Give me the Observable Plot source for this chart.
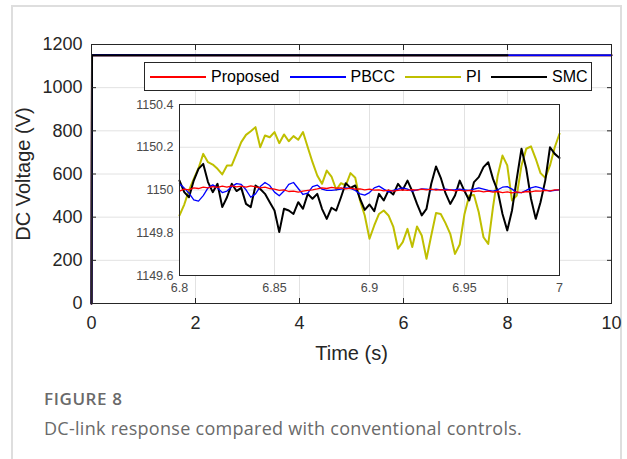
<!DOCTYPE html>
<html><head><meta charset="utf-8">
<script src="https://cdn.jsdelivr.net/npm/d3@7"></script>
<script src="https://cdn.jsdelivr.net/npm/@observablehq/plot@0.6"></script>
<style>
html,body{margin:0;padding:0;background:#fff;}
body{width:627px;height:459px;overflow:hidden;position:relative;font-family:"Liberation Sans",Arial,sans-serif;}
#card{position:absolute;left:11px;top:5px;width:607px;height:470px;border:2px solid #dedede;}
#main,#inset{position:absolute;left:0;top:0;}
#legend{position:absolute;left:144px;top:62px;width:448px;height:29px;box-sizing:border-box;border:1px solid #262626;background:#fff;display:flex;align-items:center;padding-left:5px;font-size:16px;color:#000;}
#legend .sw{display:inline-block;width:56px;height:2px;margin-right:5px;}
#legend .it{display:flex;align-items:center;margin-right:10px;white-space:nowrap;}
#figlabel{position:absolute;left:44px;top:389px;font-family:"Open Sans",sans-serif;font-weight:600;font-size:17px;letter-spacing:0.6px;line-height:20px;color:#6a6a6a;}
#caption{position:absolute;left:44px;top:417px;font-family:"Open Sans",sans-serif;font-size:18px;letter-spacing:0.28px;line-height:22px;color:#6a6a6a;}
</style>
</head><body>
<div id="card"></div>
<div id="main"></div>
<div id="inset"></div>
<div id="legend"></div>
<div id="figlabel">FIGURE 8</div>
<div id="caption">DC-link response compared with conventional controls.</div>
<script>
// ---------- data ----------
const seriesNames = ["Proposed", "PBCC", "PI", "SMC"];
const seriesColors = ["#ff0000", "#0000ff", "#bfbf00", "#000000"];

// main plot (0-10 s)
const mainT        = [0, 0.01, 0.1, 8, 10];
const mainProposed = [0, 1150, 1150, 1150, 1150];
const mainPBCC     = [0, 1150, 1151, 1150, 1150];
const mainPI       = [0, 1150, 1150, 1150, 1150];
const mainSMC      = [0, 1150, 1150, 1150, null];
const mainXTicks = [0, 2, 4, 6, 8, 10];
const mainXLabels = ["0", "2", "4", "6", "8", "10"];
const mainYTicks = [0, 200, 400, 600, 800, 1000, 1200];
const mainYLabels = ["0", "200", "400", "600", "800", "1000", "1200"];

// inset (6.8-7 s)
const insetT = [
6.8000,6.8025,6.8050,6.8075,6.8100,6.8125,6.8150,6.8175,6.8200,6.8225,
6.8250,6.8275,6.8300,6.8325,6.8350,6.8375,6.8400,6.8425,6.8450,6.8475,
6.8500,6.8525,6.8550,6.8575,6.8600,6.8625,6.8650,6.8675,6.8700,6.8725,
6.8750,6.8775,6.8800,6.8825,6.8850,6.8875,6.8900,6.8925,6.8950,6.8975,
6.9000,6.9025,6.9050,6.9075,6.9100,6.9125,6.9150,6.9175,6.9200,6.9225,
6.9250,6.9275,6.9300,6.9325,6.9350,6.9375,6.9400,6.9425,6.9450,6.9475,
6.9500,6.9525,6.9550,6.9575,6.9600,6.9625,6.9650,6.9675,6.9700,6.9725,
6.9750,6.9775,6.9800,6.9825,6.9850,6.9875,6.9900,6.9925,6.9950,6.9975,
7.0000];
const insetPI = [
1149.881,1149.932,1149.998,1150.052,1150.102,1150.169,1150.130,1150.119,1150.099,1150.073,
1150.115,1150.115,1150.169,1150.224,1150.258,1150.275,1150.294,1150.200,1150.255,1150.247,
1150.271,1150.219,1150.260,1150.228,1150.252,1150.235,1150.271,1150.200,1150.130,1150.068,
1150.029,1150.091,1150.063,1150.001,1150.032,1150.021,1150.079,1150.057,1149.951,1149.881,
1149.772,1149.834,1149.888,1149.904,1149.881,1149.829,1149.725,1149.756,1149.818,1149.733,
1149.829,1149.787,1149.678,1149.787,1149.892,1149.888,1149.845,1149.795,1149.701,1149.745,
1149.888,1149.974,1149.977,1149.896,1149.779,1149.748,1149.920,1150.068,1150.161,1150.115,
1149.951,1149.974,1150.115,1150.193,1150.204,1150.146,1150.079,1150.057,1150.115,1150.200,
1150.263];
const insetSMC = [
1150.044,1149.990,1149.966,1150.044,1150.099,1150.122,1150.037,1149.990,1150.029,1149.920,
1149.966,1150.029,1149.995,1150.010,1149.935,1149.920,1150.021,1150.005,1149.982,1149.943,
1149.904,1149.803,1149.912,1149.904,1149.888,1149.943,1149.912,1149.982,1149.959,1149.982,
1149.912,1149.865,1149.917,1149.904,1149.966,1150.032,1150.010,1150.021,1149.959,1149.907,
1149.932,1149.901,1149.982,1149.951,1149.998,1149.979,1150.029,1150.001,1150.044,1149.995,
1149.935,1149.881,1149.912,1150.029,1150.110,1150.057,1149.985,1149.935,1149.974,1150.044,
1149.995,1149.951,1150.037,1150.060,1150.107,1150.130,1150.052,1149.995,1149.888,1149.811,
1149.904,1150.052,1150.193,1150.099,1149.959,1149.865,1149.943,1150.044,1150.200,1150.169,
1150.150];
const insetPBCC = [
1150.029,1150.009,1149.985,1149.954,1149.948,1149.974,1150.010,1150.024,1150.010,1149.988,
1149.995,1150.016,1150.030,1150.026,1150.001,1149.966,1149.982,1150.016,1150.035,1150.021,
1149.990,1149.973,1149.995,1150.026,1150.035,1150.007,1149.979,1149.985,1150.016,1150.023,
1150.004,1149.998,1149.998,1150.001,1150.004,1150.010,1150.007,1149.998,1149.982,1149.976,
1149.988,1150.010,1150.018,1150.004,1149.991,1149.998,1150.004,1150.010,1150.004,1149.995,
1150.001,1150.005,1150.004,1150.001,1150.004,1150.001,1150.004,1150.001,1150.002,1150.004,
1150.001,1149.998,1150.004,1150.010,1150.004,1149.998,1149.995,1150.001,1150.013,1150.016,
1150.004,1149.988,1149.988,1149.998,1150.010,1150.016,1150.010,1150.001,1149.995,1149.998,
1150.001];
const insetProposed = [
1149.995,1150.004,1150.001,1150.010,1150.007,1150.013,1150.010,1150.016,1150.012,1150.018,
1150.013,1150.019,1150.015,1150.018,1150.013,1150.019,1150.015,1150.010,1150.013,1150.007,
1150.004,1149.998,1150.001,1149.993,1149.995,1149.990,1149.995,1149.998,1150.001,1150.005,
1150.010,1150.007,1150.012,1150.009,1150.010,1150.005,1150.009,1150.004,1150.005,1150.001,
1150.004,1149.999,1150.001,1149.996,1149.999,1149.995,1149.998,1150.001,1149.998,1150.002,
1149.999,1150.004,1150.001,1150.004,1149.999,1150.002,1149.998,1150.001,1149.996,1149.999,
1149.995,1149.998,1149.993,1149.996,1149.991,1149.995,1149.990,1149.993,1149.988,1149.991,
1149.987,1149.991,1149.988,1149.993,1149.991,1149.996,1149.995,1149.998,1149.996,1150.001,
1150.001];
const insetXTicks = [6.8, 6.85, 6.9, 6.95, 7];
const insetXLabels = ["6.8", "6.85", "6.9", "6.95", "7"];
const insetYTicks = [1149.6, 1149.8, 1150, 1150.2, 1150.4];
const insetYLabels = ["1149.6", "1149.8", "1150", "1150.2", "1150.4"];

// ---------- build ----------
const font = "'Liberation Sans', Arial, sans-serif";
const toRows = (ts, vs) => ts.map((t, i) => ({t, v: vs[i]}));
const mainSeries = {Proposed: mainProposed, PBCC: mainPBCC, PI: mainPI, SMC: mainSMC};
const insetSeries = {Proposed: insetProposed, PBCC: insetPBCC, PI: insetPI, SMC: insetSMC};
const color = name => seriesColors[seriesNames.indexOf(name)];
const fmt = (ticks, labels) => d => labels[ticks.indexOf(d)];

const gridCol = "#e2e2e2";
const main = Plot.plot({
  width: 627, height: 380,
  marginLeft: 91, marginRight: 16, marginTop: 44, marginBottom: 77,
  style: {background: "transparent", fontFamily: font, color: "#262626", overflow: "visible"},
  x: {domain: [0, 10]},
  y: {domain: [0, 1200]},
  marks: [
    Plot.gridX(mainXTicks, {stroke: gridCol, strokeOpacity: 1}),
    Plot.gridY(mainYTicks, {stroke: gridCol, strokeOpacity: 1}),
    ...["Proposed", "PI", "PBCC", "SMC"].map(n =>
      Plot.line(toRows(mainT, mainSeries[n]), {x: "t", y: "v", stroke: color(n), strokeWidth: 2})),
    Plot.frame({stroke: "#262626", strokeWidth: 1}),
    Plot.axisX(mainXTicks, {anchor: "bottom", tickSize: 0, tickPadding: 13, fontSize: 18, label: null,
      tickFormat: fmt(mainXTicks, mainXLabels)}),
    Plot.axisY(mainYTicks, {anchor: "left", tickSize: 0, tickPadding: 9, fontSize: 18, label: null,
      tickFormat: fmt(mainYTicks, mainYLabels)}),
    Plot.axisX(mainXTicks, {anchor: "bottom", tickSize: -5, tickFormat: () => "", label: null}),
    Plot.axisX(mainXTicks, {anchor: "top", tickSize: -5, tickFormat: () => "", label: null}),
    Plot.axisY(mainYTicks, {anchor: "left", tickSize: -5, tickFormat: () => "", label: null}),
    Plot.axisY(mainYTicks, {anchor: "right", tickSize: -5, tickFormat: () => "", label: null}),
    Plot.axisX([], {anchor: "bottom", tickSize: 0, fontSize: 20, label: "Time (s)", labelAnchor: "center", labelArrow: false, labelOffset: 56}),
    Plot.axisY([], {anchor: "left", tickSize: 0, fontSize: 20, label: "DC Voltage (V)", labelAnchor: "center", labelArrow: false, labelOffset: 76})
  ]
});
document.getElementById("main").append(main);

const inset = Plot.plot({
  width: 627, height: 300,
  marginLeft: 179, marginRight: 68, marginTop: 104, marginBottom: 25,
  style: {background: "transparent", fontFamily: font, color: "#4a4a4a", overflow: "visible"},
  x: {domain: [6.8, 7]},
  y: {domain: [1149.6, 1150.4]},
  marks: [
    Plot.frame({fill: "white", stroke: "none"}),
    Plot.gridX(insetXTicks, {stroke: gridCol, strokeOpacity: 1}),
    Plot.gridY(insetYTicks, {stroke: gridCol, strokeOpacity: 1}),
    ...["PI", "SMC", "PBCC", "Proposed"].map(n =>
      Plot.line(toRows(insetT, insetSeries[n]), {x: "t", y: "v", stroke: color(n),
        strokeWidth: (n === "PI" || n === "SMC") ? 2 : 1.3})),
    Plot.frame({stroke: "#262626", strokeWidth: 1}),
    Plot.axisX(insetXTicks, {tickSize: 0, tickPadding: 8, fontSize: 12.5, label: null,
      tickFormat: fmt(insetXTicks, insetXLabels)}),
    Plot.axisY(insetYTicks, {tickSize: 0, tickPadding: 6, fontSize: 12.5, label: null,
      tickFormat: fmt(insetYTicks, insetYLabels)})
  ]
});
document.getElementById("inset").append(inset);

// legend
const leg = document.getElementById("legend");
seriesNames.forEach((n, i) => {
  const it = document.createElement("span");
  it.className = "it";
  const sw = document.createElement("span");
  sw.className = "sw";
  sw.style.background = seriesColors[i];
  const tx = document.createElement("span");
  tx.textContent = n;
  it.append(sw, tx);
  leg.append(it);
});
</script>
</body></html>
